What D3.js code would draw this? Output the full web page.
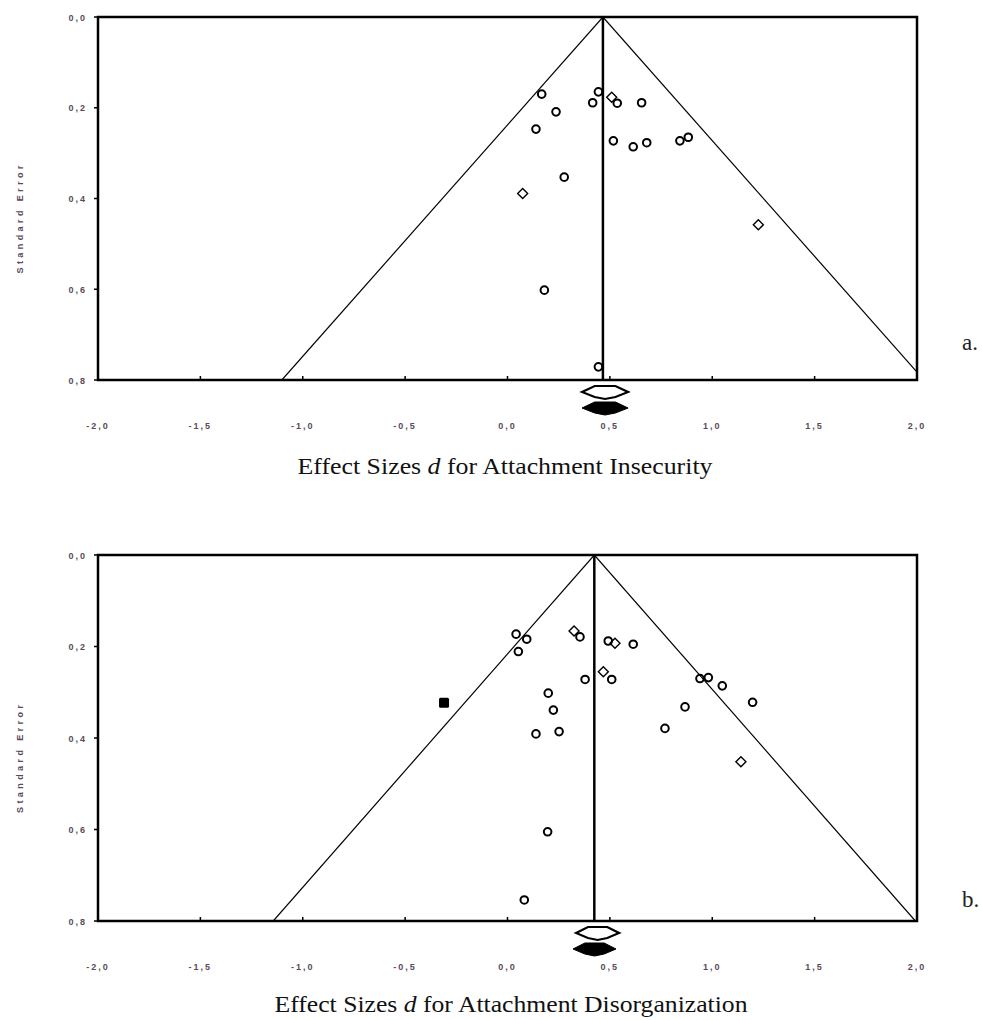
<!DOCTYPE html>
<html>
<head>
<meta charset="utf-8">
<script src="https://cdn.jsdelivr.net/npm/d3@7"></script>
<style>
  body { margin: 0; background: #fff; }
  svg { display: block; }
</style>
</head>
<body>
<div id="chart"></div>
<script>
// tick values and labels (decimal comma as in the original)
var xTicks = [-2, -1.5, -1, -0.5, 0, 0.5, 1, 1.5, 2];
var xTickLabels = ["-2,0", "-1,5", "-1,0", "-0,5", "0,0", "0,5", "1,0", "1,5", "2,0"];
var yTicks = [0, 0.2, 0.4, 0.6, 0.8];
var yTickLabels = ["0,0", "0,2", "0,4", "0,6", "0,8"];

// panel a: attachment insecurity
var insecD     = [0.167, 0.237, 0.139, 0.444, 0.416, 0.509, 0.536, 0.655, 0.517, 0.614, 0.680, 0.842, 0.883, 0.277, 0.074, 1.225, 0.180, 0.444];
var insecSE    = [0.170, 0.209, 0.247, 0.165, 0.189, 0.177, 0.190, 0.189, 0.273, 0.286, 0.277, 0.273, 0.265, 0.353, 0.389, 0.458, 0.602, 0.771];
var insecShape = ["o", "o", "o", "o", "o", "d", "o", "o", "o", "o", "o", "o", "o", "o", "d", "d", "o", "o"];
var insecPooled = 0.466;
var insecSummary = [[0.364, 0.589], [0.364, 0.589]];   // observed (open), adjusted (filled)

// panel b: attachment disorganization
var disorgD     = [0.042, 0.094, 0.053, 0.325, 0.354, 0.492, 0.525, 0.614, 0.379, 0.468, 0.509, 0.199, 0.224, 0.139, 0.252, 0.940, 0.981, 1.049, 0.867, 0.769, 1.197, -0.310, 1.140, 0.196, 0.082];
var disorgSE    = [0.173, 0.184, 0.211, 0.166, 0.179, 0.188, 0.193, 0.195, 0.272, 0.255, 0.272, 0.302, 0.339, 0.391, 0.386, 0.270, 0.268, 0.286, 0.332, 0.379, 0.322, 0.323, 0.452, 0.605, 0.754];
var disorgShape = ["o", "o", "o", "d", "o", "o", "d", "o", "o", "d", "o", "o", "o", "o", "o", "o", "o", "o", "o", "o", "o", "f", "d", "o", "o"];
var disorgPooled = 0.424;
var disorgSummary = [[0.335, 0.545], [0.320, 0.530]];

var W = 982, H = 1020;
var svg = d3.select("#chart").append("svg").attr("width", W).attr("height", H);

function panel(opts) {
    var x = d3.scaleLinear().domain([-2, 2]).range([98, 917]);
    var y = d3.scaleLinear().domain([0, 0.8]).range([opts.top, opts.bottom]);
    var g = svg.append("g");

    var clipId = "clip" + opts.id;
    svg.append("clipPath").attr("id", clipId).append("rect")
        .attr("x", 98).attr("y", opts.top).attr("width", 819).attr("height", opts.bottom - opts.top);

    // funnel
    var f = g.append("g").attr("clip-path", "url(#" + clipId + ")");
    [-1, 1].forEach(function(s) {
        f.append("line")
            .attr("x1", x(opts.pooled)).attr("y1", y(0))
            .attr("x2", x(opts.pooled + s * 1.96 * 0.8)).attr("y2", y(0.8))
            .attr("stroke", "#000").attr("stroke-width", 1.2);
    });
    g.append("line")
        .attr("x1", x(opts.pooled)).attr("x2", x(opts.pooled))
        .attr("y1", y(0)).attr("y2", y(0.8))
        .attr("stroke", "#000").attr("stroke-width", 2.5);

    // frame
    g.append("rect")
        .attr("x", 98).attr("y", opts.top).attr("width", 819).attr("height", opts.bottom - opts.top)
        .attr("fill", "none").attr("stroke", "#000").attr("stroke-width", 2.5);

    // x ticks (inside) and labels
    xTicks.forEach(function(t, i) {
        g.append("line").attr("x1", x(t)).attr("x2", x(t))
            .attr("y1", opts.bottom).attr("y2", opts.bottom - 4)
            .attr("stroke", "#000").attr("stroke-width", 1.5);
        g.append("text").attr("x", x(t)).attr("y", opts.bottom + 49)
            .attr("text-anchor", "middle")
            .attr("font-family", "Liberation Sans, Arial, sans-serif")
            .attr("font-size", 9).attr("font-weight", "bold")
            .attr("letter-spacing", 2).attr("fill", "#5a4a5a")
            .text(xTickLabels[i]);
    });

    // y ticks (outside) and labels
    yTicks.forEach(function(t, i) {
        g.append("line").attr("x1", 94).attr("x2", 98)
            .attr("y1", y(t)).attr("y2", y(t))
            .attr("stroke", "#000").attr("stroke-width", 1.5);
        g.append("text").attr("x", 87).attr("y", y(t) + 3.5)
            .attr("text-anchor", "end")
            .attr("font-family", "Liberation Sans, Arial, sans-serif")
            .attr("font-size", 9).attr("font-weight", "bold")
            .attr("letter-spacing", 2).attr("fill", "#5a4a5a")
            .text(yTickLabels[i]);
    });

    // y title
    var cy = (opts.top + opts.bottom) / 2 + 21;
    g.append("text")
        .attr("transform", "translate(23," + cy + ") rotate(-90)")
        .attr("text-anchor", "middle")
        .attr("font-family", "Liberation Sans, Arial, sans-serif")
        .attr("font-size", 9).attr("font-weight", "bold").attr("fill", "#5a4a5a")
        .attr("textLength", 108).attr("lengthAdjust", "spacing")
        .text("Standard Error");

    // points
    opts.d.forEach(function(d, i) {
        var px = x(d), py = y(opts.se[i]), s = opts.shape[i];
        if (s === "o") {
            g.append("circle").attr("cx", px).attr("cy", py).attr("r", 3.8)
                .attr("fill", "none").attr("stroke", "#000").attr("stroke-width", 2);
        } else if (s === "d") {
            g.append("path")
                .attr("d", "M" + px + "," + (py - 5) + "L" + (px + 5) + "," + py + "L" + px + "," + (py + 5) + "L" + (px - 5) + "," + py + "Z")
                .attr("fill", "none").attr("stroke", "#000").attr("stroke-width", 1.4);
        } else {
            g.append("rect").attr("x", px - 5).attr("y", py - 5).attr("width", 10).attr("height", 10)
                .attr("rx", 1.5).attr("fill", "#000");
        }
    });

    // summary diamonds below the axis
    opts.summary.forEach(function(ci, k) {
        var x0 = x(ci[0]), x1 = x(ci[1]), xm = (x0 + x1) / 2;
        var cyS = opts.bottom + (k === 0 ? 12 : 28);
        var hw = (x1 - x0) / 2;
        var p = "M" + x0 + "," + cyS +
            "L" + (xm - hw * 0.45) + "," + (cyS - 6) +
            "L" + (xm + hw * 0.45) + "," + (cyS - 6) +
            "L" + x1 + "," + cyS +
            "L" + (xm + hw * 0.45) + "," + (cyS + 5) +
            "L" + xm + "," + (cyS + 7) +
            "L" + (xm - hw * 0.45) + "," + (cyS + 5) + "Z";
        g.append("path").attr("d", p)
            .attr("fill", k === 0 ? "none" : "#000")
            .attr("stroke", "#000").attr("stroke-width", k === 0 ? 2.2 : 1);
    });

    // x title
    var t = g.append("text").attr("x", opts.titleX).attr("y", opts.titleY)
        .attr("text-anchor", "middle")
        .attr("font-family", "Liberation Serif, Times New Roman, serif")
        .attr("font-size", 23).attr("fill", "#111")
        .attr("textLength", opts.titleW).attr("lengthAdjust", "spacingAndGlyphs");
    t.append("tspan").text("Effect Sizes ");
    t.append("tspan").attr("font-style", "italic").text("d");
    t.append("tspan").text(" for Attachment " + opts.titleEnd);

    // panel letter
    g.append("text").attr("x", 962).attr("y", opts.letterY)
        .attr("font-family", "Liberation Serif, Times New Roman, serif")
        .attr("font-size", 23).attr("fill", "#222")
        .text(opts.letter);
}

panel({ id: "a", top: 17, bottom: 380, d: insecD, se: insecSE, shape: insecShape,
    pooled: insecPooled, summary: insecSummary, titleX: 505, titleY: 474, titleW: 415,
    titleEnd: "Insecurity", letter: "a.", letterY: 350 });

panel({ id: "b", top: 555, bottom: 921, d: disorgD, se: disorgSE, shape: disorgShape,
    pooled: disorgPooled, summary: disorgSummary, titleX: 511, titleY: 1012, titleW: 473,
    titleEnd: "Disorganization", letter: "b.", letterY: 907 });
</script>
</body>
</html>
